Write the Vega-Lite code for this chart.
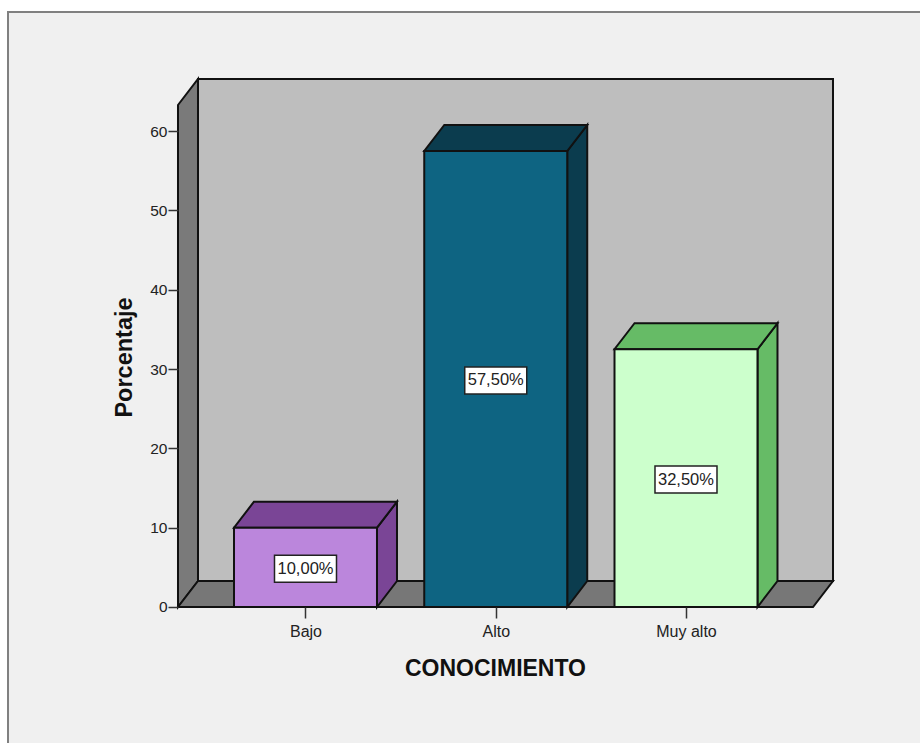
{
  "$schema": "https://vega.github.io/schema/vega-lite/v6.json",
  "width": 920,
  "height": 743,
  "padding": 0,
  "autosize": "none",
  "background": "#ffffff",
  "config": {"view": {"stroke": null}, "font": "Liberation Sans"},
  "params": [
    {"name": "depthX", "value": 0.1051},
    {"name": "depthY", "value": 3.279},
    {"name": "halfBar", "value": 0.3758}
  ],
  "datasets": {
    "barras": [
      {"CONOCIMIENTO": "Bajo", "orden": 1, "Porcentaje": 10.0},
      {"CONOCIMIENTO": "Alto", "orden": 2, "Porcentaje": 57.5},
      {"CONOCIMIENTO": "Muy alto", "orden": 3, "Porcentaje": 32.5}
    ],
    "panel": [{"x0": -0.5637, "x1": 4.4, "y0": 75.03, "y1": -18}],
    "caja": [{"xMin": 0.3298, "xMax": 3.6676, "yMax": 63.3}]
  },
  "layer": [
    {
      "description": "Chart frame",
      "data": {"name": "panel"},
      "mark": {"type": "rect", "fill": "#f0f0f0", "stroke": "#808080", "strokeWidth": 2, "clip": true},
      "encoding": {
        "x": {
          "field": "x0", "type": "quantitative",
          "scale": {"domain": [-0.6058, 4.23], "nice": false, "zero": false},
          "axis": {
            "zindex": 1, "orient": "bottom", "offset": -136, "domain": false, "grid": false,
            "values": [1, 2, 3],
            "labelExpr": "['', 'Bajo', 'Alto', 'Muy alto'][datum.value]",
            "labelFont": "Liberation Sans", "labelFontSize": 16, "labelColor": "#222222",
            "labelPadding": 5, "tickSize": 11, "tickColor": "#333333", "tickWidth": 1.5,
            "title": "CONOCIMIENTO", "titleFont": "Liberation Sans", "titleFontSize": 23, "titleFontWeight": "bold",
            "titleColor": "#111111", "titleX": 495, "titleY": 61, "titleBaseline": "middle", "titleAnchor": "middle"
          }
        },
        "x2": {"field": "x1"},
        "y": {
          "field": "y0", "type": "quantitative",
          "scale": {"domain": [-17.15, 76.54], "nice": false, "zero": false},
          "axis": {
            "zindex": 1, "orient": "left", "offset": -178, "domain": false, "grid": false,
            "values": [0, 10, 20, 30, 40, 50, 60],
            "labelFont": "Liberation Sans", "labelFontSize": 15.5, "labelColor": "#222222",
            "labelPadding": 1, "tickSize": 10, "tickColor": "#333333", "tickWidth": 1.5,
            "title": "Porcentaje", "titleFont": "Liberation Sans", "titleFontSize": 23.5, "titleFontWeight": "bold",
            "titleColor": "#111111", "titleX": -54, "titleY": 357, "titleBaseline": "middle", "titleAnchor": "middle"
          }
        },
        "y2": {"field": "y1"}
      }
    },
    {
      "description": "Back wall",
      "data": {"name": "caja"},
      "transform": [
        {"calculate": "datum.xMin + depthX", "as": "a"},
        {"calculate": "datum.xMax + depthX", "as": "b"},
        {"calculate": "datum.yMax + depthY", "as": "t"},
        {"calculate": "depthY", "as": "f"}
      ],
      "mark": {"type": "rect", "fill": "#bebebe", "stroke": "#111111", "strokeWidth": 2},
      "encoding": {
        "x": {"field": "a", "type": "quantitative", "axis": null},
        "x2": {"field": "b"},
        "y": {"field": "t", "type": "quantitative", "axis": null},
        "y2": {"field": "f"}
      }
    },
    {
      "description": "Left wall",
      "data": {"name": "caja"},
      "transform": [
        {"calculate": "[0, 1]", "as": "d"},
        {"flatten": ["d"]},
        {"calculate": "datum.xMin + datum.d * depthX", "as": "a"},
        {"calculate": "datum.yMax + datum.d * depthY", "as": "t"},
        {"calculate": "datum.d * depthY", "as": "f"}
      ],
      "mark": {"type": "area", "fill": "#7a7a7a", "stroke": "#111111", "strokeWidth": 2, "opacity": 1},
      "encoding": {
        "x": {"field": "a", "type": "quantitative", "axis": null},
        "y": {"field": "t", "type": "quantitative", "axis": null, "stack": null},
        "y2": {"field": "f"}
      }
    },
    {
      "description": "Floor",
      "data": {"name": "caja"},
      "transform": [
        {"calculate": "[0, 1]", "as": "d"},
        {"flatten": ["d"]},
        {"calculate": "datum.xMin + datum.d * depthX", "as": "a"},
        {"calculate": "datum.xMax + datum.d * depthX", "as": "b"},
        {"calculate": "datum.d * depthY", "as": "f"}
      ],
      "mark": {"type": "area", "orient": "horizontal", "fill": "#777777", "stroke": "#111111", "strokeWidth": 2, "opacity": 1},
      "encoding": {
        "y": {"field": "f", "type": "quantitative", "axis": null},
        "x": {"field": "a", "type": "quantitative", "axis": null, "stack": null},
        "x2": {"field": "b"}
      }
    },
    {
      "description": "Right face of each bar",
      "data": {"name": "barras"},
      "transform": [
        {"calculate": "[0, 1]", "as": "d"},
        {"flatten": ["d"]},
        {"calculate": "datum.orden + halfBar + datum.d * depthX", "as": "a"},
        {"calculate": "datum.Porcentaje + datum.d * depthY", "as": "t"},
        {"calculate": "datum.d * depthY", "as": "f"}
      ],
      "mark": {"type": "area", "stroke": "#111111", "strokeWidth": 2, "opacity": 1},
      "encoding": {
        "x": {"field": "a", "type": "quantitative", "axis": null},
        "y": {"field": "t", "type": "quantitative", "axis": null, "stack": null},
        "y2": {"field": "f"},
        "fill": {
          "field": "CONOCIMIENTO", "type": "nominal", "legend": null,
          "scale": {"domain": ["Bajo", "Alto", "Muy alto"], "range": ["#7a4596", "#0b3c4e", "#66bb66"]}
        }
      }
    },
    {
      "description": "Top face of each bar",
      "data": {"name": "barras"},
      "transform": [
        {"calculate": "[0, 1]", "as": "d"},
        {"flatten": ["d"]},
        {"calculate": "datum.orden - halfBar + datum.d * depthX", "as": "a"},
        {"calculate": "datum.orden + halfBar + datum.d * depthX", "as": "b"},
        {"calculate": "datum.Porcentaje + datum.d * depthY", "as": "t"}
      ],
      "mark": {"type": "area", "orient": "horizontal", "stroke": "#111111", "strokeWidth": 2, "opacity": 1},
      "encoding": {
        "y": {"field": "t", "type": "quantitative", "axis": null},
        "x": {"field": "a", "type": "quantitative", "axis": null, "stack": null},
        "x2": {"field": "b"},
        "fill": {
          "field": "CONOCIMIENTO", "type": "nominal", "legend": null,
          "scale": {"domain": ["Bajo", "Alto", "Muy alto"], "range": ["#7a4596", "#0b3c4e", "#66bb66"]}
        }
      }
    },
    {
      "description": "Front face of each bar",
      "data": {"name": "barras"},
      "transform": [
        {"calculate": "datum.orden - halfBar", "as": "a"},
        {"calculate": "datum.orden + halfBar", "as": "b"},
        {"calculate": "0", "as": "f"}
      ],
      "mark": {"type": "rect", "stroke": "#111111", "strokeWidth": 2},
      "encoding": {
        "x": {"field": "a", "type": "quantitative", "axis": null},
        "x2": {"field": "b"},
        "y": {"field": "Porcentaje", "type": "quantitative", "axis": null},
        "y2": {"field": "f"},
        "fill": {
          "field": "CONOCIMIENTO", "type": "nominal", "legend": null,
          "scale": {"domain": ["Bajo", "Alto", "Muy alto"], "range": ["#bb86dc", "#0e6482", "#ccffcc"]}
        }
      }
    },
    {
      "description": "White box behind each value label",
      "data": {"name": "barras"},
      "transform": [{"calculate": "datum.Porcentaje / 2", "as": "medio"}],
      "mark": {"type": "rect", "width": 62, "height": 27, "yOffset": 1.5, "fill": "#ffffff", "stroke": "#222222", "strokeWidth": 1.5},
      "encoding": {
        "x": {"field": "orden", "type": "quantitative", "axis": null},
        "y": {"field": "medio", "type": "quantitative", "axis": null}
      }
    },
    {
      "description": "Value labels",
      "data": {"name": "barras"},
      "transform": [
        {"calculate": "datum.Porcentaje / 2", "as": "medio"},
        {"calculate": "replace(format(datum.Porcentaje, '.2f'), '.', ',') + '%'", "as": "etiqueta"}
      ],
      "mark": {"type": "text", "font": "Liberation Sans", "fontSize": 16.5, "color": "#222222", "align": "center", "baseline": "middle", "dy": 1.5},
      "encoding": {
        "x": {"field": "orden", "type": "quantitative", "axis": null},
        "y": {"field": "medio", "type": "quantitative", "axis": null},
        "text": {"field": "etiqueta", "type": "nominal"}
      }
    }
  ],
  "resolve": {"scale": {"fill": "independent"}, "axis": {"x": "independent", "y": "independent"}}
}
